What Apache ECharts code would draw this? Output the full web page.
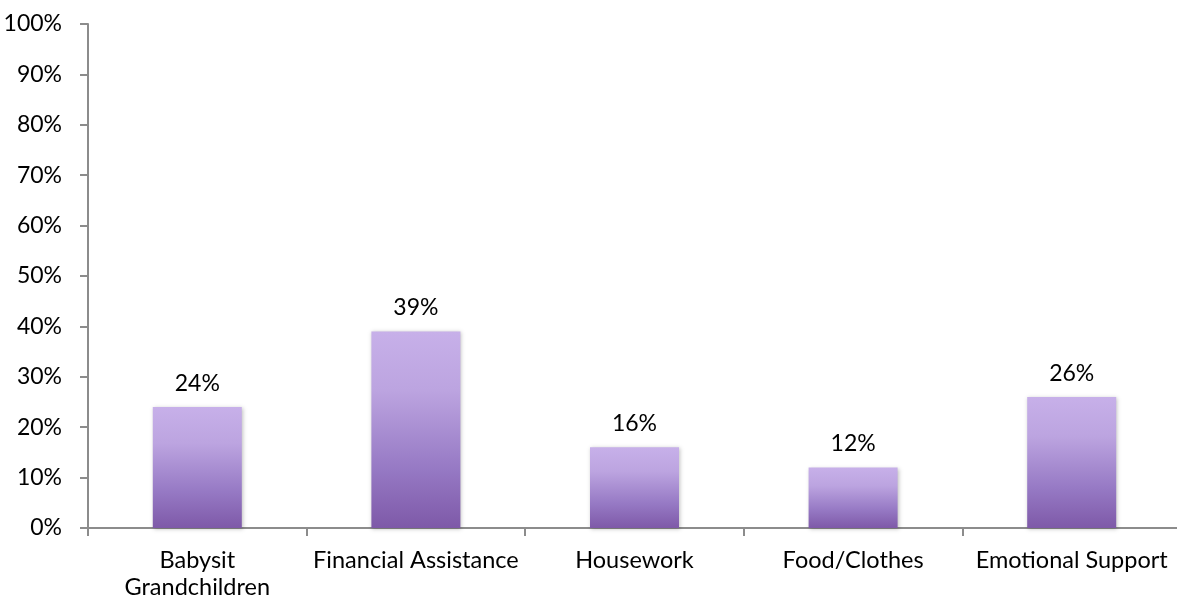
<!DOCTYPE html>
<html><head><meta charset="utf-8">
<script src="https://cdn.jsdelivr.net/npm/echarts@6/dist/echarts.min.js"></script>
<style>html,body{margin:0;padding:0;background:#fff}#c{width:1177px;height:600px}</style>
</head><body><div id="c"></div>
<script>
const categories = ['Babysit\nGrandchildren','Financial Assistance','Housework','Food/Clothes','Emotional Support'];
const values = [24, 39, 16, 12, 26];
const yTicks = [0,10,20,30,40,50,60,70,80,90,100];

const chart = echarts.init(document.getElementById('c'));
const font = 'Lato, "Open Sans", sans-serif';
chart.setOption({
  animation: false,
  grid: {left: 88, right: -4, top: 24, bottom: 72, containLabel: false, outerBoundsMode: 'none'},
  xAxis: {
    type: 'category', data: categories,
    axisLine: {lineStyle: {color: '#8c8c8c', width: 2}},
    axisTick: {show: true, alignWithLabel: false, length: 8, lineStyle: {color: '#8c8c8c', width: 2}},
    axisLabel: {color: '#000', fontSize: 23.5, fontFamily: font, margin: 19, lineHeight: 27, interval: 0}
  },
  yAxis: {
    type: 'value', min: 0, max: 100, interval: 10,
    axisLine: {show: true, lineStyle: {color: '#8c8c8c', width: 2}},
    axisTick: {show: true, length: 8, lineStyle: {color: '#8c8c8c', width: 2}},
    splitLine: {show: false},
    axisLabel: {color: '#000', fontSize: 23, fontFamily: font, margin: 26, formatter: v => v + '%'}
  },
  series: [{
    type: 'bar', data: values, barWidth: 89,
    itemStyle: {
      color: new echarts.graphic.LinearGradient(0,0,0,1,[
        {offset: 0, color: '#c7b0e9'},
        {offset: 0.3, color: '#bca4e0'},
        {offset: 0.7, color: '#9679c4'},
        {offset: 1, color: '#7e59a8'}
      ]),
      shadowColor: 'rgba(0,0,0,0.25)', shadowBlur: 4, shadowOffsetX: 1, shadowOffsetY: 1
    },
    label: {show: true, position: 'top', distance: 12, color: '#000', fontSize: 23, fontFamily: font, formatter: p => p.value + '%'}
  }]
});
</script></body></html>
